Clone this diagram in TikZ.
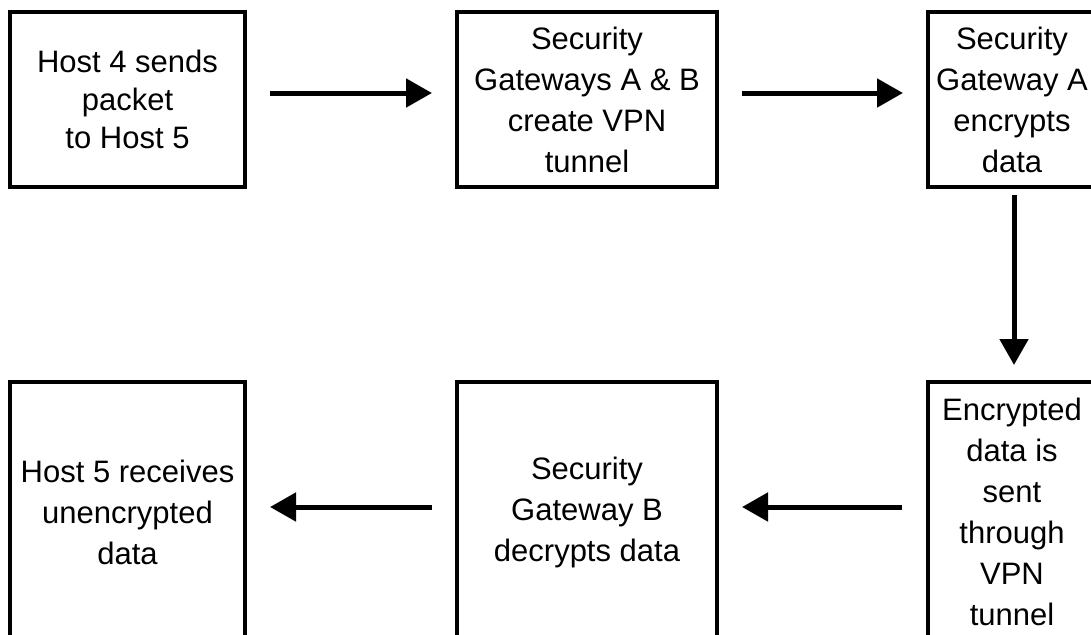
\documentclass[tikz,border=0pt]{standalone}
\usepackage{fontspec}
\setmainfont{Liberation Sans}
\usetikzlibrary{arrows.meta}
\begin{document}
\begin{tikzpicture}[x=1pt,y=1pt,
  box/.style={draw, line width=3.5pt, inner sep=0pt, outer sep=0pt, align=center,
    font=\fontsize{31}{41}\selectfont},
  toprow/.style={box, minimum height=175pt},
  botrow/.style={box, minimum height=260pt},
  arr/.style={line width=5pt, -{Triangle[length=26pt,width=28pt]}}]
\useasboundingbox (0,0) rectangle (1091,-634);
\clip (0,0) rectangle (1091,-634);
\node[toprow, minimum width=235pt, font=\fontsize{31}{38}\selectfont] (b1) at (127.5,-99.5) {Host 4 sends\\packet\\to Host 5};
\node[toprow, minimum width=260pt] (b2) at (587,-99.5) {Security\\Gateways A \& B\\create VPN\\tunnel};
\node[toprow, minimum width=168pt] (b3) at (1012,-99.5) {Security\\Gateway A\\encrypts\\data};
\node[botrow, minimum width=235pt] (b4) at (127.5,-512) {Host 5 receives\\unencrypted\\data};
\node[botrow, minimum width=260pt] (b5) at (587,-512) {Security\\Gateway B\\decrypts data};
\node[botrow, minimum width=168pt] (b6) at (1012,-512) {Encrypted\\data is\\sent\\through\\VPN\\tunnel};
\draw[arr, shorten <=25pt, shorten >=25pt] ([yshift=6.5pt]b1.east) -- ([yshift=6.5pt]b2.west);
\draw[arr, shorten <=25pt, shorten >=25pt] ([yshift=6.5pt]b2.east) -- ([yshift=6.5pt]b3.west);
\draw[arr, shorten <=8pt, shorten >=17pt] ([xshift=2pt]b3.south) -- ([xshift=2pt]b6.north);
\draw[arr, shorten <=26pt, shorten >=25pt] ([yshift=5pt]b6.west) -- ([yshift=5pt]b5.east);
\draw[arr, shorten <=25pt, shorten >=25pt] ([yshift=5pt]b5.west) -- ([yshift=5pt]b4.east);
\end{tikzpicture}
\end{document}
